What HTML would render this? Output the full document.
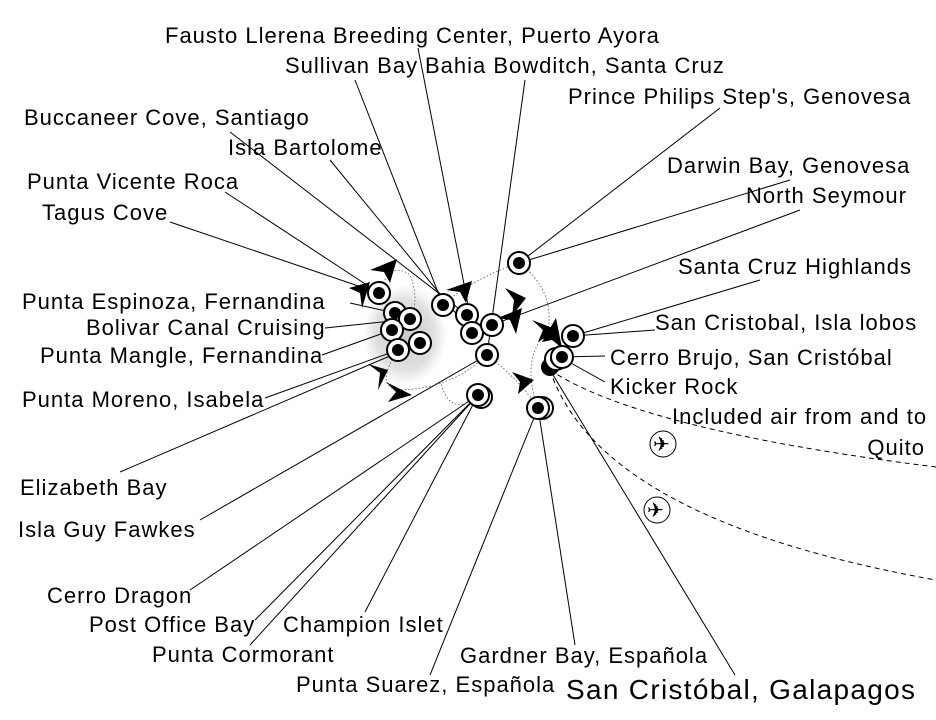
<!DOCTYPE html>
<html><head><meta charset="utf-8"><style>
html,body{margin:0;padding:0;background:#fff;}
svg{display:block;font-family:"Liberation Sans",sans-serif;}
text{font-size:22px;letter-spacing:1px;fill:#000;}
</style></head><body>
<svg width="936" height="720" viewBox="0 0 936 720" xmlns="http://www.w3.org/2000/svg">
<defs>
<radialGradient id="sh" cx="50%" cy="50%" r="50%"><stop offset="0" stop-color="#c8c8c8"/><stop offset="0.7" stop-color="#d8d8d8" stop-opacity="0.8"/><stop offset="1" stop-color="#ddd" stop-opacity="0"/></radialGradient>
<g id="m"><circle r="11" fill="#fff" stroke="#000" stroke-width="2"/><circle r="6" fill="#000"/></g>
<g id="plane"><circle r="13" fill="#fff" stroke="#000" stroke-width="1"/><text x="-10" y="7" style="font-size:20px;letter-spacing:0;font-family:'DejaVu Sans';font-weight:bold">✈</text></g>
</defs>
<ellipse cx="405" cy="335" rx="42" ry="50" fill="url(#sh)"/>
<g stroke="#000" stroke-width="1" fill="none">
<line x1="418" y1="48" x2="470" y2="315"/>
<line x1="355" y1="80" x2="443" y2="305"/>
<line x1="525" y1="80" x2="487" y2="355"/>
<line x1="720" y1="108" x2="519" y2="263"/>
<line x1="230" y1="132" x2="467" y2="315"/>
<line x1="330" y1="160" x2="472" y2="333"/>
<line x1="790" y1="180" x2="519" y2="263"/>
<line x1="225" y1="192" x2="379" y2="293"/>
<line x1="800" y1="210" x2="492" y2="325"/>
<line x1="170" y1="222" x2="379" y2="293"/>
<line x1="760" y1="280" x2="573" y2="336"/>
<line x1="350" y1="303" x2="395" y2="313"/>
<line x1="655" y1="330" x2="573" y2="336"/>
<line x1="325" y1="328" x2="410" y2="319"/>
<line x1="322" y1="355" x2="392" y2="330"/>
<line x1="605" y1="356" x2="560" y2="357"/>
<line x1="605" y1="382" x2="560" y2="357"/>
<line x1="265" y1="398" x2="398" y2="350"/>
<line x1="120" y1="472" x2="420" y2="343"/>
<line x1="200" y1="520" x2="487" y2="355"/>
<line x1="190" y1="590" x2="478" y2="395"/>
<line x1="255" y1="620" x2="478" y2="395"/>
<line x1="365" y1="612" x2="478" y2="395"/>
<line x1="250" y1="645" x2="478" y2="395"/>
<line x1="575" y1="645" x2="538" y2="408"/>
<line x1="430" y1="675" x2="538" y2="408"/>
<line x1="735" y1="675" x2="550" y2="370"/>
</g>
<g stroke="#000" stroke-width="1" fill="none" stroke-dasharray="5,4">
<path d="M550 370 Q640 430 936 467"/>
<path d="M550 370 Q600 520 936 580"/>
</g>
<g stroke="#555" stroke-width="0.8" fill="none" stroke-dasharray="1.5,2">
<path d="M379 293 Q390 260 410 275 Q420 300 410 319"/>
<path d="M398 350 Q375 385 397 390 Q450 390 487 355"/>
<path d="M443 305 Q470 280 519 263"/>
<path d="M519 263 Q555 290 548 330"/>
<path d="M487 355 Q520 380 538 408"/>
<path d="M478 395 Q450 420 440 380"/>
<path d="M548 330 Q520 360 538 408"/>
</g>
<g fill="#000">
<polygon points="370,270 397,259 390,283 384,272"/>
<polygon points="349,288 370,282 362,308 360,293"/>
<polygon points="446,290 472,281 466,303 460,292"/>
<polygon points="505,288 526,298 512,316 514,300"/>
<polygon points="498,318 522,308 516,334 510,320"/>
<polygon points="532,320 558,330 538,342 543,330"/>
<polygon points="542,342 556,318 562,348 552,340"/>
<polygon points="368,364 388,370 378,390 380,373"/>
<polygon points="386,382 412,395 388,402 396,392"/>
<polygon points="512,372 534,380 518,394 520,382"/>
</g>
<use href="#m" x="519" y="263"/>
<use href="#m" x="379" y="293"/>
<use href="#m" x="395" y="313"/><use href="#m" x="410" y="319"/>
<use href="#m" x="392" y="330"/><use href="#m" x="420" y="343"/><use href="#m" x="398" y="350"/>
<use href="#m" x="443" y="305"/><use href="#m" x="467" y="315"/>
<use href="#m" x="472" y="333"/><use href="#m" x="492" y="325"/><use href="#m" x="487" y="355"/>
<use href="#m" x="481" y="397"/><use href="#m" x="478" y="395"/>
<use href="#m" x="542" y="408"/><use href="#m" x="538" y="408"/>
<circle cx="550" cy="367" r="9" fill="#000"/>
<use href="#m" x="573" y="336"/>
<use href="#m" x="556" y="359"/><use href="#m" x="562" y="357"/>
<use href="#plane" x="663" y="444"/>
<use href="#plane" x="657" y="510"/>
<text x="165" y="43">Fausto Llerena Breeding Center, Puerto Ayora</text>
<text x="285" y="73">Sullivan Bay</text>
<text x="425" y="73">Bahia Bowditch, Santa Cruz</text>
<text x="568" y="104">Prince Philips Step's, Genovesa</text>
<text x="24" y="125">Buccaneer Cove, Santiago</text>
<text x="228" y="155">Isla Bartolome</text>
<text x="667" y="173">Darwin Bay, Genovesa</text>
<text x="27" y="189">Punta Vicente Roca</text>
<text x="746" y="203">North Seymour</text>
<text x="42" y="220">Tagus Cove</text>
<text x="678" y="274">Santa Cruz Highlands</text>
<text x="22" y="309">Punta Espinoza, Fernandina</text>
<text x="655" y="330">San Cristobal, Isla lobos</text>
<text x="86" y="335">Bolivar Canal Cruising</text>
<text x="40" y="363">Punta Mangle, Fernandina</text>
<text x="610" y="365">Cerro Brujo, San Cristóbal</text>
<text x="610" y="394">Kicker Rock</text>
<text x="22" y="407">Punta Moreno, Isabela</text>
<text x="672" y="424">Included air from and to</text>
<text x="925" y="455" text-anchor="end">Quito</text>
<text x="20" y="495">Elizabeth Bay</text>
<text x="18" y="537">Isla Guy Fawkes</text>
<text x="47" y="603">Cerro Dragon</text>
<text x="89" y="632">Post Office Bay</text>
<text x="283" y="632">Champion Islet</text>
<text x="152" y="662">Punta Cormorant</text>
<text x="460" y="663">Gardner Bay, Española</text>
<text x="296" y="692">Punta Suarez, Española</text>
<text x="566" y="699" style="font-size:28px;letter-spacing:1.3px">San Cristóbal, Galapagos</text>
</svg>
</body></html>
